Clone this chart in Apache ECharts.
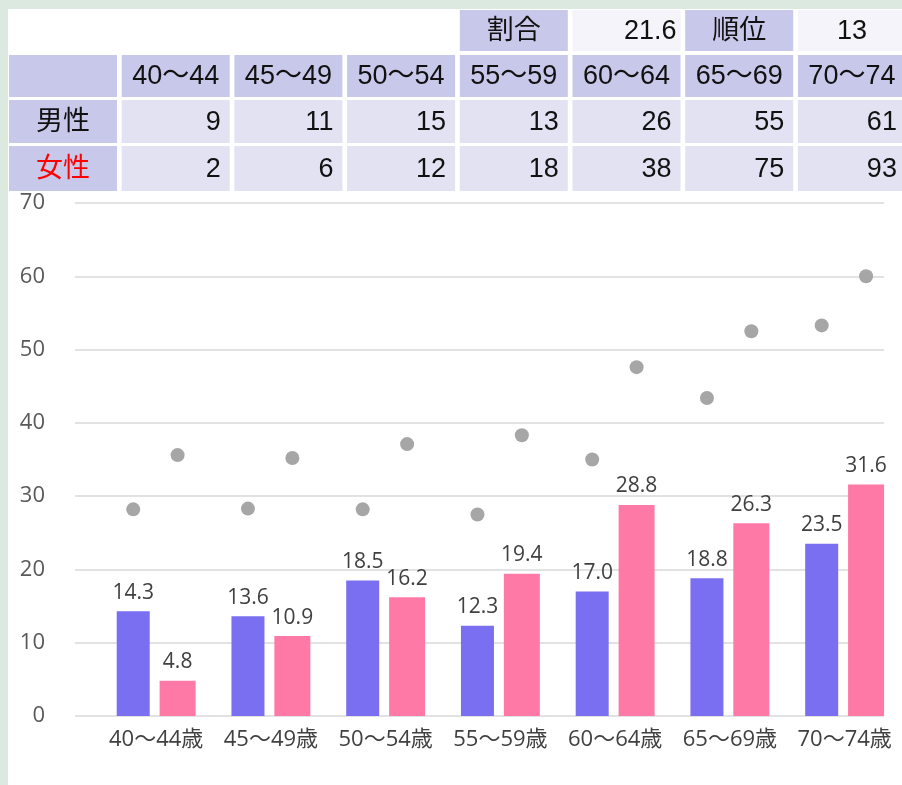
<!DOCTYPE html>
<html>
<head>
<meta charset="utf-8">
<script src="https://cdn.jsdelivr.net/npm/echarts@6/dist/echarts.min.js"></script>
<style>
  html, body { margin: 0; padding: 0; background: #dce9e0; }
  #panel { position: absolute; left: 8px; top: 9px; width: 894px; height: 776px; background: #fff; }
  #chart { position: absolute; left: 0; top: 0; width: 902px; height: 785px; }
</style>
</head>
<body>
<div id="panel"></div>
<div id="chart"></div>
<script>
// 年齢階級（表の見出し）
var ageGroups = ['40〜44', '45〜49', '50〜54', '55〜59', '60〜64', '65〜69', '70〜74'];
// グラフの横軸ラベル
var axisLabels = ['40〜44歳', '45〜49歳', '50〜54歳', '55〜59歳', '60〜64歳', '65〜69歳', '70〜74歳'];
// 人数
var maleCount = [9, 11, 15, 13, 26, 55, 61];
var femaleCount = [2, 6, 12, 18, 38, 75, 93];
// 割合（棒グラフ）
var maleRate = [14.3, 13.6, 18.5, 12.3, 17.0, 18.8, 23.5];
var femaleRate = [4.8, 10.9, 16.2, 19.4, 28.8, 26.3, 31.6];
// 比較値（灰色の点）
var maleRef = [28.2, 28.3, 28.2, 27.5, 35.0, 43.4, 53.3];
var femaleRef = [35.6, 35.2, 37.1, 38.3, 47.6, 52.5, 60.0];
// 縦軸
var yMin = 0, yMax = 70, yStep = 10;
// 表の上段
var summaryLabels = ['割合', '順位'];
var summaryValues = ['21.6', '13'];

var myChart = echarts.init(document.getElementById('chart'));

// 表をgraphicで組み立てる
var HEAD = '#c8c8ea', CELL = '#e2e2f3', VALUE = '#f4f4fa';
var TFONT = '27px "Liberation Sans", "Noto Sans CJK JP", sans-serif';
var colW = 108;
var rowY = [10, 55, 100, 146];
var rowH = [41, 42, 43, 45];
function colX(i) { return 9 + i * 112.7; }

var g = [];
function cell(c, r, fill, text, align, color) {
  var x = colX(c), y = rowY[r], h = rowH[r];
  g.push({ type: 'rect', shape: { x: x, y: y, width: colW, height: h }, style: { fill: fill }, silent: true });
  if (text === undefined || text === '') return;
  var tx = align === 'right' ? x + colW - 9 : (align === 'right4' ? x + colW - 4 : x + colW / 2);
  g.push({
    type: 'text', silent: true,
    style: {
      text: String(text), x: tx, y: y + h / 2 + 1, font: TFONT, fill: color || '#111',
      textAlign: align === 'center' ? 'center' : 'right', textVerticalAlign: 'middle',
      align: align === 'center' ? 'center' : 'right', verticalAlign: 'middle'
    }
  });
}

// 上段：割合・順位
cell(4, 0, HEAD, summaryLabels[0], 'center');
cell(5, 0, VALUE, summaryValues[0], 'right4');
cell(6, 0, HEAD, summaryLabels[1], 'center');
cell(7, 0, VALUE, summaryValues[1], 'center');
// 見出し行
cell(0, 1, HEAD, '', 'center');
for (var i = 0; i < ageGroups.length; i++) cell(i + 1, 1, HEAD, ageGroups[i], 'center');
// 男性・女性
cell(0, 2, HEAD, '男性', 'center');
cell(0, 3, HEAD, '女性', 'center', '#ff0000');
for (var i = 0; i < maleCount.length; i++) {
  cell(i + 1, 2, CELL, maleCount[i], 'right');
  cell(i + 1, 3, CELL, femaleCount[i], 'right');
}

var labelFont = '"Open Sans", "Noto Sans CJK JP", sans-serif';

var option = {
  animation: false,
  graphic: { elements: g },
  grid: [
    { left: 75, top: 203, width: 809, bottom: 69 },
    { left: 98.8, top: 203, width: 807.7, bottom: 69 }
  ],
  xAxis: [
    { gridIndex: 0, type: 'category', show: false, data: ageGroups },
    {
      gridIndex: 1, type: 'category', data: axisLabels,
      axisLine: { show: false }, axisTick: { show: false },
      axisLabel: { color: '#404040', fontSize: 22, fontFamily: labelFont, margin: 13, interval: 0 }
    }
  ],
  yAxis: [
    {
      gridIndex: 0, type: 'value', min: yMin, max: yMax, interval: yStep,
      axisLine: { show: false }, axisTick: { show: false },
      axisLabel: { color: '#595959', fontSize: 22, fontFamily: labelFont, margin: 30 },
      splitLine: { lineStyle: { color: '#d9d9d9', width: 1.5 } }
    },
    { gridIndex: 1, type: 'value', min: yMin, max: yMax, interval: yStep, show: false }
  ],
  series: [
    {
      name: '男性', type: 'bar', xAxisIndex: 1, yAxisIndex: 1, data: maleRate,
      barWidth: 33, barGap: '30%',
      itemStyle: { color: '#7a6ff0' },
      label: {
        show: true, position: 'top', distance: 8, color: '#404040', fontSize: 21, fontFamily: labelFont,
        formatter: function (p) { return p.value.toFixed(1); }
      }
    },
    {
      name: '女性', type: 'bar', xAxisIndex: 1, yAxisIndex: 1, data: femaleRate,
      barWidth: 36, barGap: '30%',
      itemStyle: { color: '#ff79a7' },
      label: {
        show: true, position: 'top', distance: 8, color: '#404040', fontSize: 21, fontFamily: labelFont,
        formatter: function (p) { return p.value.toFixed(1); }
      }
    },
    {
      name: '男性比較', type: 'pictorialBar', xAxisIndex: 1, yAxisIndex: 1, data: maleRef,
      barWidth: 33, barGap: '30%', symbol: 'circle', symbolSize: [14, 14],
      symbolPosition: 'end', symbolOffset: [0, '-50%'],
      itemStyle: { color: '#a6a6a6' }, z: 3
    },
    {
      name: '女性比較', type: 'pictorialBar', xAxisIndex: 1, yAxisIndex: 1, data: femaleRef,
      barWidth: 36, barGap: '30%', symbol: 'circle', symbolSize: [14, 14],
      symbolPosition: 'end', symbolOffset: [0, '-50%'],
      itemStyle: { color: '#a6a6a6' }, z: 3
    }
  ]
};

myChart.setOption(option);
</script>
</body>
</html>
